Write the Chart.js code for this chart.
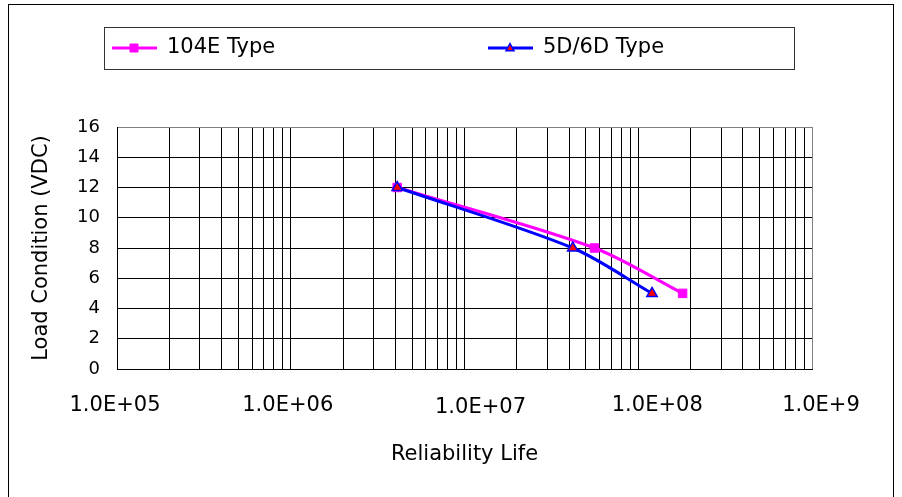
<!DOCTYPE html>
<html>
<head>
<meta charset="utf-8">
<script src="https://cdn.jsdelivr.net/npm/chart.js@4.4.0/dist/chart.umd.min.js"></script>
<style>
  html, body { margin: 0; padding: 0; background: #fff; }
  #wrap { position: relative; width: 902px; height: 497px; overflow: hidden; }
  #frame { position: absolute; left: 8px; top: 4px; width: 884px; height: 600px; border: 1px solid #000; }
  canvas { position: absolute; left: 0; top: 0; }
</style>
</head>
<body>
<div id="wrap">
  <div id="frame"></div>
  <canvas id="chart" width="902" height="497"></canvas>
</div>
<script>
// data
const seriesNames = ['104E Type', '5D/6D Type'];
const life104E = [4.1e6, 5.6e7, 1.8e8];
const load104E = [12, 8, 5];
const life5D6D = [4.1e6, 4.2e7, 1.2e8];
const load5D6D = [12, 8, 5];
const decadeTicks = [1e5, 1e6, 1e7, 1e8, 1e9];
const decadeLabels = ['1.0E+05', '1.0E+06', '1.0E+07', '1.0E+08', '1.0E+9'];
const loadMin = 0, loadMax = 16, loadStep = 2;

const FONT = '"DejaVu Sans", Verdana, sans-serif';
Chart.defaults.font.family = FONT;
Chart.defaults.color = '#000';

// the decade labels in the original sit a little off their gridlines
const labelShift = [[-2, 0], [-3, 0], [16, 2], [19, 0], [9, 0]];

const xLabels = {
  id: 'xLabels',
  afterDraw(chart) {
    const ctx = chart.ctx, sx = chart.scales.x;
    ctx.save();
    ctx.font = '21px ' + FONT;
    ctx.fillStyle = '#000';
    ctx.textAlign = 'center';
    ctx.textBaseline = 'middle';
    decadeTicks.forEach((v, i) => {
      ctx.fillText(decadeLabels[i], sx.getPixelForValue(v) + labelShift[i][0],
        chart.chartArea.bottom + 37 + labelShift[i][1]);
    });
    ctx.restore();
  }
};

function marker(ctx, style, x, y, r) {
  ctx.beginPath();
  if (style === 'rect') {
    ctx.rect(x - r, y - r, 2 * r, 2 * r);
  } else {
    ctx.moveTo(x, y - r * 1.1);
    ctx.lineTo(x + r, y + r * 0.7);
    ctx.lineTo(x - r, y + r * 0.7);
    ctx.closePath();
  }
  ctx.fill();
  ctx.stroke();
}

const boxLegend = {
  id: 'boxLegend',
  afterDraw(chart) {
    const ctx = chart.ctx;
    const slots = [112, 488];
    const y = 48;
    ctx.save();
    ctx.strokeStyle = '#333';
    ctx.lineWidth = 1;
    ctx.strokeRect(104.5, 27.5, 690, 42);
    chart.data.datasets.forEach((ds, i) => {
      const x0 = slots[i];
      ctx.strokeStyle = ds.borderColor;
      ctx.lineWidth = 3;
      ctx.beginPath();
      ctx.moveTo(x0, y);
      ctx.lineTo(x0 + 45, y);
      ctx.stroke();
      ctx.fillStyle = ds.pointBackgroundColor;
      ctx.strokeStyle = ds.pointBorderColor;
      ctx.lineWidth = ds.pointBorderWidth;
      marker(ctx, ds.pointStyle, x0 + 22, y, 4);
      ctx.fillStyle = '#000';
      ctx.font = '21px ' + FONT;
      ctx.textBaseline = 'middle';
      ctx.fillText(ds.label, x0 + 55, y);
    });
    ctx.restore();
  }
};

const toPoints = (xs, ys) => xs.map((x, i) => ({ x, y: ys[i] }));

new Chart(document.getElementById('chart'), {
  type: 'line',
  data: {
    datasets: [
      {
        label: seriesNames[0],
        data: toPoints(life104E, load104E),
        borderColor: '#FF00FF',
        backgroundColor: '#FF00FF',
        borderWidth: 3,
        pointStyle: 'rect',
        pointRadius: 6,
        pointBackgroundColor: '#FF00FF',
        pointBorderColor: '#FF00FF',
        pointBorderWidth: 1,
        tension: 0.3,
        order: 1
      },
      {
        label: seriesNames[1],
        data: toPoints(life5D6D, load5D6D),
        borderColor: '#0000FF',
        backgroundColor: '#0000FF',
        borderWidth: 3,
        pointStyle: 'triangle',
        pointRadius: 6,
        pointBackgroundColor: '#FF0000',
        pointBorderColor: '#0000FF',
        pointBorderWidth: 1.5,
        tension: 0.3,
        order: 0
      }
    ]
  },
  options: {
    responsive: false,
    animation: false,
    layout: { padding: { left: 0, right: 90, top: 127, bottom: 0 } },
    plugins: {
      legend: { display: false },
      tooltip: { enabled: false }
    },
    scales: {
      x: {
        type: 'logarithmic',
        min: decadeTicks[0],
        max: decadeTicks[decadeTicks.length - 1],
        afterBuildTicks: s => {
          const vals = [];
          decadeTicks.forEach((d, i) => {
            if (i === decadeTicks.length - 1) { vals.push(d); return; }
            for (let m = 1; m <= 9; m++) vals.push(m * d);
          });
          s.ticks = vals.map(v => ({ value: v }));
        },
        afterFit: s => { s.height = 128; },
        ticks: { display: false, autoSkip: false },
        grid: {
          drawTicks: false,
          lineWidth: 1,
          color: c => (c.tick && c.tick.value >= decadeTicks[decadeTicks.length - 1]) ? '#808080' : '#000'
        },
        border: { display: true, color: '#000', width: 1 },
        title: {
          display: true,
          text: 'Reliability Life',
          font: { size: 21 },
          color: '#000',
          padding: { top: 0, bottom: 30 }
        }
      },
      y: {
        min: loadMin,
        max: loadMax,
        afterFit: s => { s.width = 117; },
        ticks: { stepSize: loadStep, padding: 17, color: '#000', font: { size: 18 } },
        grid: {
          drawTicks: false,
          lineWidth: 1,
          color: c => (c.tick && c.tick.value >= loadMax) ? '#808080' : '#000'
        },
        border: { display: true, color: '#000', width: 1 },
        title: {
          display: true,
          text: 'Load Condition (VDC)',
          font: { size: 21 },
          color: '#000',
          padding: { top: 29, bottom: 0 }
        }
      }
    }
  },
  plugins: [xLabels, boxLegend]
});
</script>
</body>
</html>
